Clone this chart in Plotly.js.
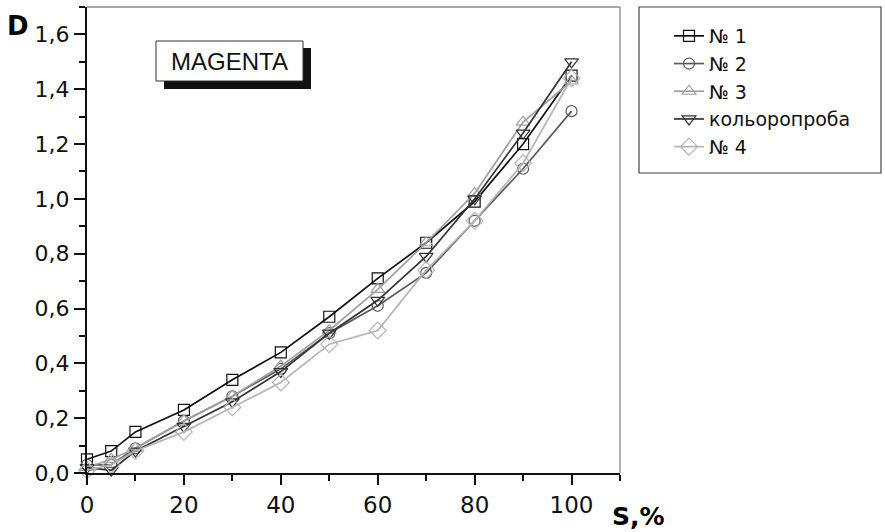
<!DOCTYPE html>
<html>
<head>
<meta charset="utf-8">
<script src="https://cdn.plot.ly/plotly-3.0.1.min.js"></script>
<style>html,body{margin:0;padding:0;background:#fff;}#chart{width:885px;height:532px;}</style>
</head>
<body>
<div id="chart"></div>
<script>
var xS = [0, 5, 10, 20, 30, 40, 50, 60, 70, 80, 90, 100];
var n1 = [0.05, 0.08, 0.15, 0.23, 0.34, 0.44, 0.57, 0.71, 0.84, 0.99, 1.20, 1.45];
var n2 = [0.03, 0.03, 0.09, 0.19, 0.28, 0.38, 0.51, 0.61, 0.73, 0.92, 1.11, 1.32];
var n3 = [0.02, 0.05, 0.09, 0.19, 0.28, 0.39, 0.52, 0.67, 0.84, 1.02, 1.28, 1.43];
var kol = [0.02, 0.01, 0.08, 0.17, 0.26, 0.37, 0.51, 0.63, 0.79, 1.00, 1.24, 1.50];
var n4 = [0.01, 0.03, 0.08, 0.15, 0.24, 0.33, 0.47, 0.52, 0.74, 0.92, 1.13, 1.44];
var names = ['№ 1', '№ 2', '№ 3', 'кольоропроба', '№ 4'];
var series = [n1, n2, n3, kol, n4];
var colors = ['#111111', '#5a5a5a', '#a0a0a0', '#333333', '#b4b4b4'];
var symbols = ['square-open', 'circle-open', 'triangle-up-open', 'triangle-down-open', 'diamond-open'];
var sizes = [11, 11, 12, 12, 13];

var traces = series.map(function (s, i) {
  return {
    x: xS, y: s, name: names[i], type: 'scatter', mode: 'lines+markers',
    cliponaxis: false,
    line: {color: colors[i], width: 1.7},
    marker: {symbol: symbols[i], size: sizes[i], color: colors[i], line: {color: colors[i], width: 1.2}}
  };
});

var F = 'DejaVu Sans, Arial, sans-serif';
function px(x) { return (x - 87) / 533; }
function py(y) { return (473 - y) / 466; }

var layout = {
  width: 885, height: 532,
  margin: {l: 87, r: 265, t: 7, b: 59},
  paper_bgcolor: '#fff', plot_bgcolor: '#fff',
  separators: ',.',
  showlegend: true,
  legend: {
    x: px(669), y: py(17), xanchor: 'left', yanchor: 'top',
    font: {family: F, size: 19, color: '#111'},
    bgcolor: 'rgba(0,0,0,0)', borderwidth: 0, tracegroupgap: 0
  },
  xaxis: {
    range: [0, 110], showgrid: false, zeroline: false,
    showline: true, linecolor: '#111', linewidth: 2,
    ticks: 'outside', ticklen: 10, tickwidth: 2, tickcolor: '#111',
    tickvals: [0, 20, 40, 60, 80, 100],
    tickfont: {family: F, size: 23, color: '#111'},
    minor: {tickvals: [10, 30, 50, 70, 90, 110], ticks: 'outside', ticklen: 6, tickwidth: 2, tickcolor: '#111'}
  },
  yaxis: {
    range: [0, 1.7], showgrid: false, zeroline: false,
    showline: true, linecolor: '#111', linewidth: 2,
    ticks: 'outside', ticklen: 11, tickwidth: 2, tickcolor: '#111',
    tickvals: [0, 0.2, 0.4, 0.6, 0.8, 1.0, 1.2, 1.4, 1.6],
    ticktext: ['0,0', '0,2', '0,4', '0,6', '0,8', '1,0', '1,2', '1,4', '1,6'],
    tickfont: {family: F, size: 22, color: '#111'},
    minor: {tickvals: [0.1, 0.3, 0.5, 0.7, 0.9, 1.1, 1.3, 1.5, 1.7], ticks: 'outside', ticklen: 6, tickwidth: 2, tickcolor: '#111'}
  },
  shapes: [
    {type: 'line', xref: 'paper', yref: 'paper', x0: 0, x1: 1, y0: 1, y1: 1, line: {color: '#888', width: 1.5}},
    {type: 'line', xref: 'paper', yref: 'paper', x0: 1, x1: 1, y0: 0, y1: 1, line: {color: '#999', width: 1.5}},
    {type: 'rect', xref: 'paper', yref: 'paper', x0: px(164), x1: px(311), y0: py(89), y1: py(48), fillcolor: '#111', line: {width: 0}},
    {type: 'rect', xref: 'paper', yref: 'paper', x0: px(156), x1: px(303), y0: py(81), y1: py(41), fillcolor: '#fff', line: {color: '#333', width: 1}},
    {type: 'rect', xref: 'paper', yref: 'paper', x0: px(639), x1: px(881), y0: py(173), y1: py(7), fillcolor: 'rgba(0,0,0,0)', line: {color: '#444', width: 1.2}}
  ],
  annotations: [
    {text: 'MAGENTA', xref: 'paper', yref: 'paper', x: px(229), y: py(61), xanchor: 'center', yanchor: 'middle', showarrow: false, font: {family: 'Liberation Sans, Arial, sans-serif', size: 24, color: '#111'}},
    {text: '<b>D</b>', xref: 'paper', yref: 'paper', x: px(18), y: py(26), xanchor: 'center', yanchor: 'middle', showarrow: false, font: {family: F, size: 26, color: '#000'}},
    {text: '<b>S,%</b>', xref: 'paper', yref: 'paper', x: px(638), y: py(516), xanchor: 'center', yanchor: 'middle', showarrow: false, font: {family: F, size: 25, color: '#000'}}
  ]
};

Plotly.newPlot('chart', traces, layout, {displayModeBar: false, staticPlot: true});
</script>
</body>
</html>
